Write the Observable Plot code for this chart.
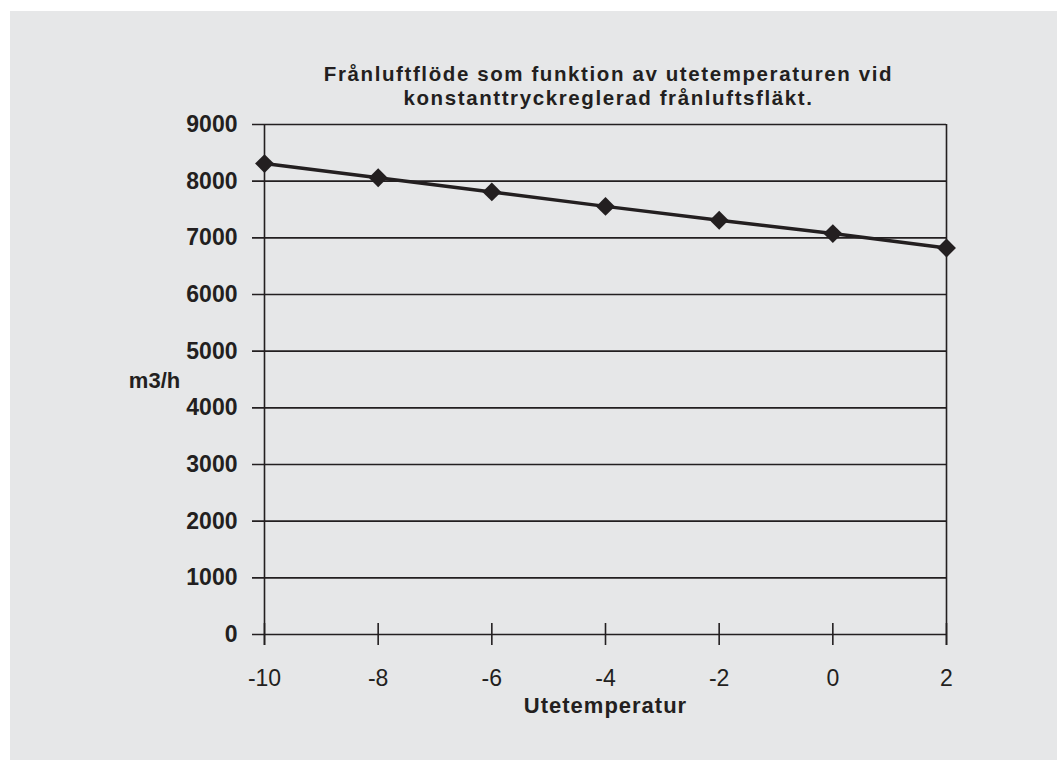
<!DOCTYPE html>
<html>
<head>
<meta charset="utf-8">
<script src="https://cdn.jsdelivr.net/npm/d3@7"></script>
<script src="https://cdn.jsdelivr.net/npm/@observablehq/plot@0.6"></script>
<style>
  html, body { margin: 0; padding: 0; background: #ffffff; }
  #wrap { padding: 11px 0 0 10px; width: 1047px; height: 749px; }
  #wrap svg { display: block; }
</style>
</head>
<body>
<div id="wrap"></div>
<script>
const temps = [-10, -8, -6, -4, -2, 0, 2];
const flows = [8310, 8060, 7810, 7555, 7310, 7075, 6820];
const yTicks = [0, 1000, 2000, 3000, 4000, 5000, 6000, 7000, 8000, 9000];
const xTicks = [-10, -8, -6, -4, -2, 0, 2];
const titleLines = ["Frånluftflöde som funktion av utetemperaturen vid", "konstanttryckreglerad frånluftsfläkt."];
const yLabel = "m3/h";
const xLabel = "Utetemperatur";

const ink = "#231f20";
const data = temps.map((t, i) => ({t, f: flows[i]}));

const chart = Plot.plot({
  width: 1047,
  height: 749,
  marginLeft: 254,
  marginRight: 111,
  marginTop: 113,
  marginBottom: 126,
  x: {domain: [-10, 2]},
  y: {domain: [0, 9000]},
  style: {background: "#e6e7e8", fontFamily: "'Liberation Sans', Arial, sans-serif", color: ink, overflow: "visible"},
  marks: [
    Plot.ruleY(yTicks, {y: d => d, insetLeft: -12, stroke: ink, strokeWidth: 1.6}),
    Plot.ruleX([xTicks[0], xTicks[xTicks.length - 1]], {x: d => d, insetBottom: -11, stroke: ink, strokeWidth: 1.6}),
    Plot.ruleX(xTicks, {x: d => d, insetTop: 499, insetBottom: -11, stroke: ink, strokeWidth: 1.6}),
    Plot.axisY({ticks: yTicks, tickSize: 0, tickPadding: 27, fontSize: 23, fontWeight: "bold", fill: ink, tickFormat: d => String(d), label: null}),
    Plot.axisX({ticks: xTicks, tickSize: 0, tickPadding: 35, fontSize: 23, fill: ink, tickFormat: d => String(d), label: null}),
    Plot.line(data, {x: "t", y: "f", stroke: ink, strokeWidth: 3.5}),
    Plot.dot(data, {x: "t", y: "f", symbol: "diamond2", r: 8.5, fill: ink, stroke: "none"}),
    Plot.text([titleLines.join("\n")], {frameAnchor: "top", lineAnchor: "middle", dx: 3, dy: -39, fontSize: 20.5, fontWeight: "bold", fill: ink, lineHeight: 1.17}),
    Plot.text([yLabel], {frameAnchor: "left", lineAnchor: "middle", dx: -110, dy: 1, fontSize: 22, fontWeight: "bold", fill: ink, textAnchor: "middle"}),
    Plot.text([xLabel], {frameAnchor: "bottom", lineAnchor: "middle", dy: 71, fontSize: 22, fontWeight: "bold", fill: ink})
  ]
});

d3.select(chart).selectAll("text").each(function() {
  const s = this.textContent;
  if (s.startsWith("Frånluft")) this.style.letterSpacing = "1.6px";
  if (s === xLabel) this.style.letterSpacing = "1px";
});

document.getElementById("wrap").appendChild(chart);
</script>
</body>
</html>
